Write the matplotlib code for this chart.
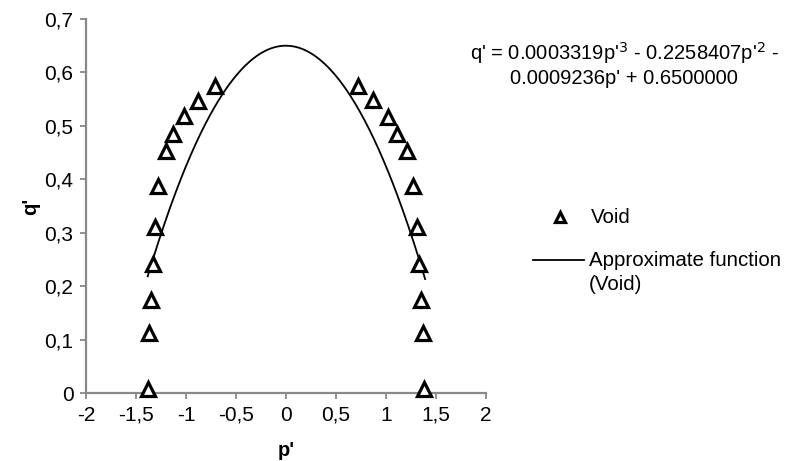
import numpy as np
import matplotlib
matplotlib.use("Agg")
import matplotlib.pyplot as plt
from matplotlib.lines import Line2D

plt.rcParams['font.family'] = ['Liberation Sans', 'DejaVu Sans']

# Measured void points (p', q')
p_void = [-0.71, -0.877, -1.017, -1.127, -1.20, -1.277, -1.31, -1.333, -1.35, -1.367, -1.383,
          0.717, 0.867, 1.017, 1.107, 1.207, 1.273, 1.307, 1.333, 1.35, 1.367, 1.383]
q_void = [0.575, 0.546, 0.518, 0.485, 0.452, 0.388, 0.311, 0.242, 0.175, 0.112, 0.007,
          0.575, 0.548, 0.516, 0.485, 0.452, 0.388, 0.311, 0.242, 0.175, 0.112, 0.007]

# Cubic fit coefficients (highest power first)
coeffs = [0.0003319, -0.2258407, -0.0009236, 0.65]
p_range = [-1.383, 1.39]

x_ticks = [-2, -1.5, -1, -0.5, 0, 0.5, 1, 1.5, 2]
y_ticks = [0, 0.1, 0.2, 0.3, 0.4, 0.5, 0.6, 0.7]

FS = 14.5
W, H = 794, 461

fig = plt.figure(figsize=(W / 100, H / 100), dpi=100)
ax = fig.add_axes([0.1083, 0.1475, 0.504, 0.8113])

p_fit = np.linspace(p_range[0], p_range[1], 300)
q_fit = np.polyval(coeffs, p_fit)
ax.plot(p_fit, q_fit, color='black', lw=1.3, zorder=2)
ax.plot(p_void, q_void, ls='none', marker='^', markersize=10.5, mfc='white',
        mec='black', mew=2.3, zorder=3, clip_on=False)

ax.set_xlim(-2, 2)
ax.set_ylim(0, 0.7)
ax.set_xticks(x_ticks)
ax.set_yticks(y_ticks)

def comma(v):
    return f"{v:g}".replace('.', ',')

ax.set_xticklabels([comma(v) for v in x_ticks])
ax.set_yticklabels([comma(v) for v in y_ticks])

for s in ['top', 'right']:
    ax.spines[s].set_visible(False)
for s in ['left', 'bottom']:
    ax.spines[s].set_color('#898989')
    ax.spines[s].set_linewidth(1.6)
ax.tick_params(axis='both', colors='#898989', length=4, width=1.3,
               labelcolor='black', labelsize=15)
ax.tick_params(axis='y', pad=5)
ax.tick_params(axis='x', pad=5)

ax.set_xlabel("p'", fontweight='bold', fontsize=FS, labelpad=12)
ax.set_ylabel("q'", fontweight='bold', fontsize=FS, labelpad=3)

fig.text(624 / W, 1 - 64 / H,
         "q' = 0.0003319p'$^{3}$ - 0.2258407p'$^{2}$ -\n0.0009236p' + 0.6500000",
         ha='center', va='center', fontsize=FS, linespacing=1.15)

# Legend, laid out by hand: the line sits level with the first text line
fig.add_artist(Line2D([560 / W], [1 - 217 / H], transform=fig.transFigure,
                      ls='none', marker='^', markersize=7, mfc='white',
                      mec='black', mew=2.3))
fig.text(591 / W, 1 - 217 / H, 'Void', ha='left', va='center', fontsize=14.8)
fig.add_artist(Line2D([533 / W, 584 / W], [1 - 260 / H, 1 - 260 / H],
                      transform=fig.transFigure, color='black', lw=1.3))
fig.text(589 / W, 1 - 260 / H, 'Approximate function', ha='left', va='center',
         fontsize=14.8)
fig.text(589 / W, 1 - 284 / H, '(Void)', ha='left', va='center', fontsize=14.8)

fig.savefig('out.png', dpi=100)
